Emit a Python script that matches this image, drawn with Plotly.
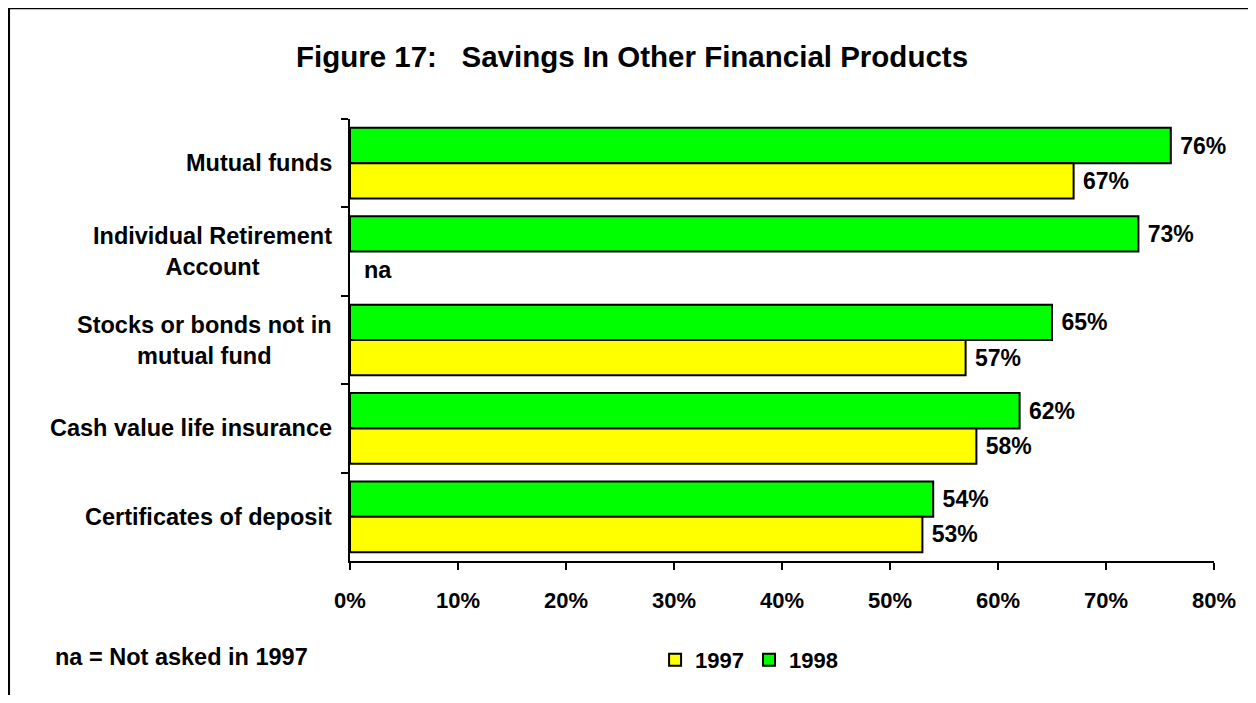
import plotly.graph_objects as go

categories = [
    "Mutual funds",
    "Individual Retirement<br>Account",
    "Stocks or bonds not in<br>mutual fund",
    "Cash value life insurance",
    "Certificates of deposit",
]
values_1998 = [76, 73, 65, 62, 54]
values_1997 = [67, None, 57, 58, 53]
na_labels = ["", "na", "", "", ""]
x_ticks = [0, 10, 20, 30, 40, 50, 60, 70, 80]

FONT = "Liberation Sans, Arial, sans-serif"
OFF = 8  # page body margin
W, H = 1240, 687
L, T = 350 - OFF, 119 - OFF
R = W - (1216 - OFF)
B = H - (561 - OFF)
pw, ph = W - L - R, H - T - B

def px_x(p):  # page pixel -> paper x
    return (p - OFF - L) / pw

def px_y(p):  # page pixel -> paper y
    return (H - B - (p - OFF)) / ph

fig = go.Figure()
fig.add_trace(go.Bar(
    y=categories, x=values_1998, orientation="h", name="1998",
    marker=dict(color="#00FF00", line=dict(color="black", width=2)),
    text=[f"\u00a0{v}%" for v in values_1998], textposition="outside",
    textfont=dict(family=FONT, size=23, color="black", weight="bold"),
    cliponaxis=False, legendrank=2,
))
fig.add_trace(go.Bar(
    y=categories, x=values_1997, orientation="h", name="1997",
    marker=dict(color="#FFFF00", line=dict(color="black", width=2)),
    text=[f"\u00a0{v}%" if v is not None else "" for v in values_1997], textposition="outside",
    textfont=dict(family=FONT, size=23, color="black", weight="bold"),
    cliponaxis=False, legendrank=1,
))

annotations = []
for c in categories:
    annotations.append(dict(
        x=0, xref="paper", xshift=-16, y=c, yref="y", xanchor="right", yanchor="middle",
        text=c, align="center", showarrow=False,
        font=dict(family=FONT, size=23.5, color="black", weight="bold"),
    ))
for c, lab in zip(categories, na_labels):
    if lab:
        annotations.append(dict(
            x=0, xref="x", y=c, yref="y", xanchor="left", yanchor="middle",
            xshift=12, yshift=-18, text=lab, showarrow=False,
            font=dict(family=FONT, size=23.5, color="black", weight="bold"),
        ))
annotations.append(dict(
    x=px_x(52), xref="paper", y=px_y(657), yref="paper", xanchor="left", yanchor="middle",
    text="na = Not asked in 1997", showarrow=False,
    font=dict(family=FONT, size=23.5, color="black", weight="bold"),
))

fig.update_layout(
    width=W, height=H,
    margin=dict(l=L, r=R, t=T, b=B),
    paper_bgcolor="white", plot_bgcolor="white",
    barmode="group", bargap=0.2, bargroupgap=0,
    title=dict(
        text="Figure 17:\u00a0\u00a0\u00a0Savings In Other Financial Products",
        x=(632 - OFF) / W, xanchor="center", y=1 - (57 - OFF) / H, yanchor="middle",
        font=dict(family=FONT, size=29.5, color="black", weight="bold"),
    ),
    xaxis=dict(
        range=[0, 80], tickvals=x_ticks, ticktext=[f"{t}%" for t in x_ticks],
        showgrid=False, zeroline=False, showline=True, linecolor="black", linewidth=2,
        ticks="outside", ticklen=7, tickwidth=2, tickcolor="black",
        tickfont=dict(family=FONT, size=22, color="black", weight="bold"),
        ticklabelstandoff=12,
    ),
    yaxis=dict(
        categoryorder="array", categoryarray=categories, autorange="reversed",
        showgrid=False, zeroline=False, showline=True, linecolor="black", linewidth=2,
        ticks="outside", ticklen=7, tickwidth=2, tickcolor="black", tickson="boundaries",
        showticklabels=False,
    ),
    showlegend=True,
    legend=dict(
        orientation="h", x=px_x(750), xanchor="center", y=px_y(660), yanchor="middle",
        font=dict(family=FONT, size=22, color="black", weight="bold"),
        itemwidth=30, bgcolor="rgba(0,0,0,0)",
    ),
    annotations=annotations,
    shapes=[dict(
        type="rect", xref="paper", yref="paper",
        x0=px_x(OFF), x1=px_x(W + OFF + 20), y0=px_y(H + OFF + 20), y1=px_y(OFF),
        line=dict(color="black", width=2.5), fillcolor="rgba(0,0,0,0)", layer="above",
    )],
)

fig.write_html("out.html")
